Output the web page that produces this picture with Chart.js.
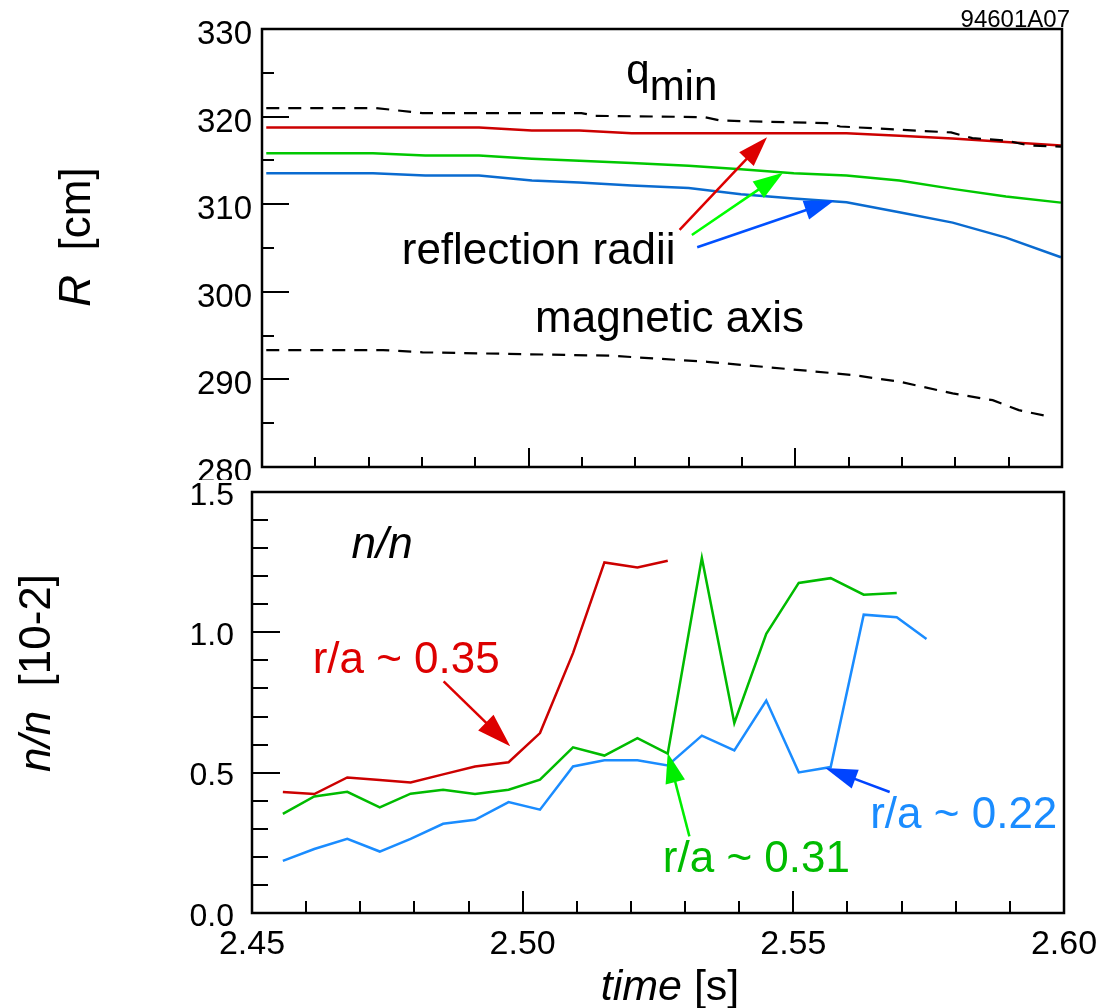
<!DOCTYPE html>
<html><head><meta charset="utf-8">
<script src="https://cdn.jsdelivr.net/npm/chart.js@4/dist/chart.umd.min.js"></script>
<style>
html,body{margin:0;padding:0;background:#fff;}
#wrap{position:relative;width:1101px;height:1008px;overflow:hidden;background:#fff;}
canvas{position:absolute;left:0;}
#c1{top:0;} #c2{top:480px;}
</style></head><body>
<div id="wrap"><canvas id="c1" width="1101" height="480"></canvas><canvas id="c2" width="1101" height="528"></canvas></div>
<script>
// ---------- top panel data (R [cm] vs time [s]) ----------
const radTime  = [2.4508, 2.4608, 2.4708, 2.4806, 2.4907, 2.5006, 2.5095, 2.5193, 2.5300, 2.5398, 2.5497, 2.5596, 2.5695, 2.5795, 2.5895, 2.5998];
const radRed   = [318.75, 318.75, 318.75, 318.75, 318.75, 318.41, 318.41, 318.10, 318.10, 318.10, 318.10, 318.10, 317.80, 317.50, 317.10, 316.70];
const radGreen = [315.83, 315.83, 315.83, 315.56, 315.56, 315.18, 314.95, 314.69, 314.40, 314.00, 313.54, 313.27, 312.70, 311.75, 310.87, 310.18];
const radBlue  = [313.54, 313.54, 313.54, 313.27, 313.27, 312.70, 312.47, 312.13, 311.85, 311.14, 310.65, 310.23, 309.09, 307.90, 306.18, 303.94];
const qminTime = [2.4508, 2.4714, 2.4801, 2.5099, 2.5124, 2.5329, 2.5360, 2.5559, 2.5584, 2.5792, 2.5832, 2.5895, 2.5938, 2.5998];
const qminR    = [320.97, 320.97, 320.40, 320.40, 320.09, 319.94, 319.55, 319.25, 318.87, 318.19, 317.54, 317.27, 316.70, 316.58];
const axisTime = [2.4508, 2.4727, 2.4801, 2.5155, 2.5335, 2.5509, 2.5609, 2.5696, 2.5795, 2.5870, 2.5919, 2.5978];
const axisR    = [293.35, 293.35, 293.09, 292.70, 292.01, 291.06, 290.49, 289.73, 288.40, 287.63, 286.49, 285.73];

// ---------- bottom panel data (n/n [10-2] vs time [s]) ----------
const flucTime  = [2.4557, 2.4615, 2.4676, 2.4736, 2.4793, 2.4853, 2.4912, 2.4974, 2.5032, 2.5093, 2.5151, 2.5212, 2.5268, 2.5331, 2.5391, 2.5450, 2.5510, 2.5569, 2.5630, 2.5691, 2.5746];
const flucRed   = [0.431, 0.424, 0.483, 0.474, 0.465, 0.494, 0.522, 0.537, 0.641, 0.926, 1.249, 1.231, 1.255];
const flucGreen = [0.353, 0.415, 0.432, 0.376, 0.425, 0.439, 0.424, 0.439, 0.475, 0.590, 0.561, 0.623, 0.568, 1.265, 0.677, 0.995, 1.176, 1.193, 1.134, 1.140];
const flucBlue  = [0.186, 0.228, 0.264, 0.219, 0.264, 0.318, 0.332, 0.395, 0.368, 0.522, 0.544, 0.544, 0.526, 0.632, 0.579, 0.757, 0.501, 0.520, 1.063, 1.054, 0.976];

// ---------- tick labels / annotation texts ----------
const xTickLabels = ['2.45', '2.50', '2.55', '2.60'];
const topLabels = ['reflection radii', 'magnetic axis'];
const bottomLabels = ['r/a ~ 0.35', 'r/a ~ 0.31', 'r/a ~ 0.22'];

const FONT = '"Liberation Sans", Arial, Helvetica, sans-serif';
const pts = (t, v) => v.map((y, i) => ({x: t[i], y: y}));

function tickList(min, step, n, majorEvery) {
  const a = [];
  for (let i = 0; i <= n; i++) a.push({v: min + i * step, major: i % majorEvery === 0});
  return a;
}

function arrow(ctx, x1, y1, x2, y2, color, lw, hl, hw) {
  const a = Math.atan2(y2 - y1, x2 - x1);
  const bx = x2 - hl * Math.cos(a), by = y2 - hl * Math.sin(a);
  ctx.strokeStyle = color; ctx.lineWidth = lw; ctx.lineCap = 'butt';
  ctx.beginPath(); ctx.moveTo(x1, y1); ctx.lineTo(bx + Math.cos(a) * 2, by + Math.sin(a) * 2); ctx.stroke();
  ctx.fillStyle = color;
  ctx.beginPath(); ctx.moveTo(x2, y2);
  ctx.lineTo(bx + hw * Math.sin(a), by - hw * Math.cos(a));
  ctx.lineTo(bx - hw * Math.sin(a), by + hw * Math.cos(a));
  ctx.closePath(); ctx.fill();
}

function drawParts(ctx, x, y, parts, color) {
  let cx = x;
  ctx.fillStyle = color; ctx.textBaseline = 'alphabetic'; ctx.textAlign = 'left';
  for (const p of parts) {
    ctx.font = p.font;
    ctx.fillText(p.text, cx, y + (p.dy || 0));
    cx += ctx.measureText(p.text).width;
  }
}
function partsWidth(ctx, parts) {
  let w = 0;
  for (const p of parts) { ctx.font = p.font; w += ctx.measureText(p.text).width; }
  return w;
}

const deco = {
  id: 'deco',
  afterDraw(chart, args, o) {
    const ctx = chart.ctx, xs = chart.scales.x, ys = chart.scales.y, ca = chart.chartArea;
    ctx.save();
    ctx.strokeStyle = '#000'; ctx.lineWidth = 2; ctx.lineCap = 'butt';
    ctx.beginPath();
    for (const t of o.xTicks) {
      const px = Math.round(xs.getPixelForValue(t.v));
      ctx.moveTo(px, ca.bottom); ctx.lineTo(px, ca.bottom - (t.major ? o.xMajor : o.xMinor));
    }
    for (const t of o.yTicks) {
      const py = Math.round(ys.getPixelForValue(t.v));
      ctx.moveTo(ca.left, py); ctx.lineTo(ca.left + (t.major ? o.yMajor : o.yMinor), py);
    }
    ctx.stroke();
    ctx.lineWidth = 2.5;
    ctx.strokeRect(ca.left, ca.top, ca.right - ca.left, ca.bottom - ca.top);
    for (const a of o.arrows) {
      arrow(ctx, xs.getPixelForValue(a.x1), ys.getPixelForValue(a.y1),
                 xs.getPixelForValue(a.x2), ys.getPixelForValue(a.y2), a.color, 2.5, a.hl, a.hw);
    }
    for (const t of o.texts) {
      drawParts(ctx, xs.getPixelForValue(t.x), ys.getPixelForValue(t.y), t.parts, t.color);
    }
    for (const t of o.titles) {
      ctx.save();
      ctx.translate(t.px, t.py);
      if (t.rot) ctx.rotate(t.rot);
      const w = partsWidth(ctx, t.parts);
      drawParts(ctx, t.align === 'right' ? -w : -w / 2, 0, t.parts, '#000');
      ctx.restore();
    }
    ctx.restore();
  }
};

const common = {
  responsive: false, animation: false, devicePixelRatio: 1, events: [],
  elements: {point: {radius: 0}, line: {tension: 0, borderCapStyle: 'butt', borderJoinStyle: 'miter'}},
};
const big = s => ({family: FONT, size: s});

// ---------- top chart ----------
new Chart(document.getElementById('c1'), {
  type: 'line',
  data: {datasets: [
    {data: pts(qminTime, qminR), borderColor: '#000', borderWidth: 2.2, borderDash: [13, 9]},
    {data: pts(axisTime, axisR), borderColor: '#000', borderWidth: 2.2, borderDash: [13, 9]},
    {data: pts(radTime, radRed), borderColor: '#cc0000', borderWidth: 2.5},
    {data: pts(radTime, radGreen), borderColor: '#00c800', borderWidth: 2.5},
    {data: pts(radTime, radBlue), borderColor: '#0a6bd0', borderWidth: 2.5}
  ]},
  options: Object.assign({}, common, {
    layout: {padding: {left: 0, top: 29, right: 39, bottom: 13}},
    plugins: {
      legend: {display: false}, tooltip: {enabled: false},
      deco: {
        xTicks: tickList(2.45, 0.01, 15, 5), xMajor: 19, xMinor: 10,
        yTicks: tickList(280, 5, 10, 2), yMajor: 27, yMinor: 12,
        arrows: [
          {x1: 2.5283, y1: 307.07, x2: 2.5447, y2: 317.63, color: '#dd0000', hl: 30, hw: 10},
          {x1: 2.5306, y1: 306.49, x2: 2.5477, y2: 313.58, color: '#00ff00', hl: 30, hw: 10},
          {x1: 2.5316, y1: 305.09, x2: 2.5573, y2: 310.43, color: '#0050ff', hl: 30, hw: 10}
        ],
        texts: [
          {x: 2.5183, y: 323.7, color: '#000', parts: [{text: 'q', font: '42px ' + FONT}, {text: 'min', font: '42px ' + FONT, dy: 16}]},
          {x: 2.4762, y: 303.2, color: '#000', parts: [{text: topLabels[0], font: '44px ' + FONT}]},
          {x: 2.5012, y: 295.4, color: '#000', parts: [{text: topLabels[1], font: '44px ' + FONT}]}
        ],
        titles: [
          {px: 90, py: 237, rot: -Math.PI / 2, parts: [{text: 'R', font: 'italic 44px ' + FONT}, {text: '  [cm]', font: '44px ' + FONT}]},
          {px: 1070, py: 27, rot: 0, align: 'right', parts: [{text: '94601A07', font: '24px ' + FONT}]}
        ]
      }
    },
    scales: {
      x: {type: 'linear', min: 2.45, max: 2.60, ticks: {display: false}, grid: {display: false, drawTicks: false}, border: {display: false},
          afterFit(s) { s.height = 0; s.paddingLeft = 0; s.paddingRight = 0; }},
      y: {type: 'linear', min: 280, max: 330, ticks: {stepSize: 10, padding: 10, labelOffset: 6, color: '#000', font: big(33)},
          grid: {display: false, drawTicks: false}, border: {display: false},
          afterFit(s) { s.width = 262; s.paddingTop = 0; s.paddingBottom = 0; }}
    }
  }),
  plugins: [deco]
});

// ---------- bottom chart ----------
new Chart(document.getElementById('c2'), {
  type: 'line',
  data: {datasets: [
    {data: pts(flucTime, flucRed), borderColor: '#cc0000', borderWidth: 2.5},
    {data: pts(flucTime, flucGreen), borderColor: '#00bb00', borderWidth: 2.5},
    {data: pts(flucTime, flucBlue), borderColor: '#1a8cff', borderWidth: 2.5}
  ]},
  options: Object.assign({}, common, {
    layout: {padding: {left: 0, top: 12, right: 37, bottom: 0}},
    plugins: {
      legend: {display: false}, tooltip: {enabled: false},
      deco: {
        xTicks: tickList(2.45, 0.01, 15, 5), xMajor: 22, xMinor: 12,
        yTicks: tickList(0, 0.1, 15, 5), yMajor: 28, yMinor: 16,
        arrows: [
          {x1: 2.4854, y1: 0.825, x2: 2.4977, y2: 0.594, color: '#dd0000', hl: 34, hw: 11},
          {x1: 2.5308, y1: 0.273, x2: 2.5268, y2: 0.570, color: '#00ee00', hl: 30, hw: 10},
          {x1: 2.5678, y1: 0.431, x2: 2.5559, y2: 0.517, color: '#0044ff', hl: 32, hw: 10}
        ],
        texts: [
          {x: 2.4684, y: 1.266, color: '#000', parts: [{text: 'n/n', font: 'italic 44px ' + FONT}]},
          {x: 2.4612, y: 0.856, color: '#dd0000', parts: [{text: bottomLabels[0], font: '44px ' + FONT}]},
          {x: 2.5259, y: 0.147, color: '#00bb00', parts: [{text: bottomLabels[1], font: '44px ' + FONT}]},
          {x: 2.5642, y: 0.304, color: '#1a8cff', parts: [{text: bottomLabels[2], font: '44px ' + FONT}]}
        ],
        titles: [
          {px: 50, py: 193, rot: -Math.PI / 2, parts: [{text: 'n/n', font: 'italic 44px ' + FONT}, {text: '  [10-2]', font: '44px ' + FONT}]},
          {px: 670, py: 520, rot: 0, parts: [{text: 'time', font: 'italic 43px ' + FONT}, {text: ' [s]', font: '43px ' + FONT}]}
        ]
      }
    },
    scales: {
      x: {type: 'linear', min: 2.45, max: 2.60,
          ticks: {stepSize: 0.05, padding: 11, maxRotation: 0, autoSkip: false, color: '#000', font: big(34),
                  callback: (v) => { const s = (Math.round(v * 100) / 100).toFixed(2); return xTickLabels.includes(s) ? s : ''; }},
          grid: {display: false, drawTicks: false}, border: {display: false},
          afterFit(s) { s.height = 95; s.paddingLeft = 0; s.paddingRight = 0; }},
      y: {type: 'linear', min: 0, max: 1.5, ticks: {stepSize: 0.5, padding: 18, labelOffset: 4, color: '#000', font: big(32),
          callback: (v) => Number(v).toFixed(1)},
          grid: {display: false, drawTicks: false}, border: {display: false},
          afterFit(s) { s.width = 252; s.paddingTop = 0; s.paddingBottom = 0; }}
    }
  }),
  plugins: [deco]
});
</script>
</body></html>
